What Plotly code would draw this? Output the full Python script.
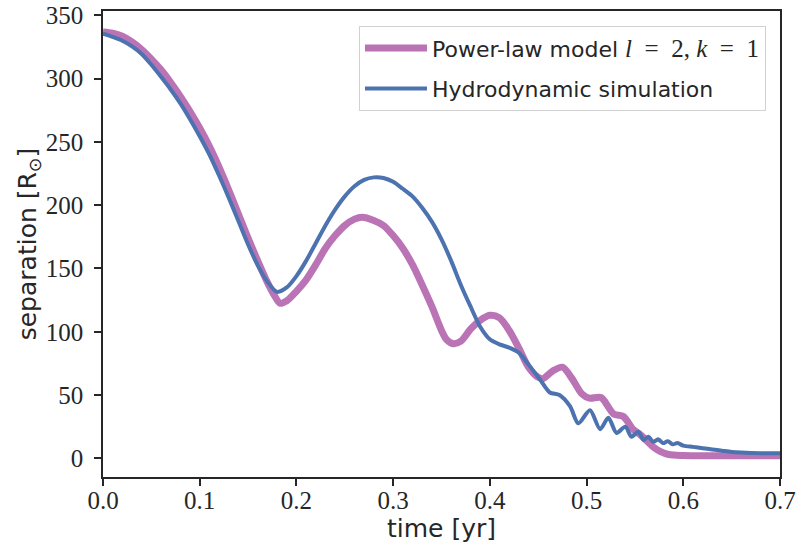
import plotly.graph_objects as go

# Power-law model l=2, k=1
t_model = [0.000, 0.010, 0.020, 0.030, 0.040, 0.050, 0.060, 0.070, 0.080, 0.090,
           0.100, 0.110, 0.120, 0.130, 0.140, 0.150, 0.160, 0.170, 0.177, 0.183,
           0.190, 0.200, 0.210, 0.220, 0.230, 0.240, 0.250, 0.260, 0.268, 0.280,
           0.290, 0.300, 0.310, 0.320, 0.330, 0.340, 0.350, 0.355, 0.362, 0.370,
           0.380, 0.390, 0.400, 0.410, 0.420, 0.430, 0.440, 0.450, 0.455, 0.465,
           0.475, 0.485, 0.495, 0.503, 0.515, 0.528, 0.538, 0.548, 0.555, 0.569,
           0.576, 0.585, 0.600, 0.650, 0.700]
sep_model = [337, 336, 333.5, 329, 323, 315.5, 307, 297, 286, 274,
             261, 246.5, 230, 212, 193, 174, 156, 139, 129, 122.5,
             124.5, 132, 141, 153, 166, 176, 184, 189, 190.5, 188,
             184, 176, 166, 153, 137, 120, 101, 94, 90.5, 92.5,
             102, 109, 113, 111, 101, 87, 72, 64, 63, 69,
             72, 63, 51, 47.5, 48, 35, 33, 23, 19, 9,
             5.5, 3, 2.2, 2, 2]

# Hydrodynamic simulation
t_hydro = [0.000, 0.010, 0.020, 0.030, 0.040, 0.050, 0.060, 0.070, 0.080, 0.090,
           0.100, 0.110, 0.120, 0.130, 0.140, 0.150, 0.160, 0.170, 0.180, 0.190,
           0.200, 0.210, 0.220, 0.230, 0.240, 0.250, 0.260, 0.270, 0.280, 0.290,
           0.300, 0.310, 0.320, 0.330, 0.340, 0.350, 0.360, 0.370, 0.380, 0.390,
           0.400, 0.410, 0.420, 0.430, 0.440, 0.452, 0.462, 0.472, 0.483, 0.4915,
           0.5035, 0.514, 0.5225, 0.531, 0.540, 0.5465, 0.5535, 0.559, 0.564, 0.569,
           0.574, 0.579, 0.584, 0.589, 0.594, 0.600, 0.610, 0.620, 0.630, 0.640,
           0.650, 0.660, 0.680, 0.700]
sep_hydro = [335.5, 333, 330, 325.5, 319.5, 311, 301.5, 291.5, 280.5, 268,
             254.5, 240, 223.5, 206, 187.5, 169, 152.5, 139.5, 131.5, 135,
             144, 156, 170, 184, 196.5, 207, 215, 220, 222, 221.5,
             218.5, 213, 207, 198, 187, 173, 156, 137, 120, 104,
             94, 90, 87.5, 83.5, 74, 62, 52, 50, 41, 27.6,
             38, 23, 32, 20, 25, 17, 21, 14.5, 17, 13,
             15, 12, 13.5, 11, 12, 10, 9, 8, 7, 6,
             5, 4.5, 4, 4]

x_ticks = [0.0, 0.1, 0.2, 0.3, 0.4, 0.5, 0.6, 0.7]
x_tick_text = ["0.0", "0.1", "0.2", "0.3", "0.4", "0.5", "0.6", "0.7"]
y_ticks = [0, 50, 100, 150, 200, 250, 300, 350]
y_tick_text = ["0", "50", "100", "150", "200", "250", "300", "350"]

PINK = "rgb(186,116,182)"
BLUE = "rgb(76,114,176)"
DARK = "#262626"
MATH = "Liberation Serif"
SANS = "DejaVu Sans"

model_name = ("Power-law model <span style='font-family:" + MATH + "; font-size:25px'>"
              "<i>l</i>&nbsp;&nbsp;=&nbsp;&nbsp;2, <i>k</i>&nbsp;&nbsp;=&nbsp;&nbsp;1</span>")

fig = go.Figure()
fig.add_trace(go.Scatter(
    x=t_model, y=sep_model, mode="lines",
    line=dict(color=PINK, width=7, shape="spline", smoothing=0.8),
    name=model_name, legendgroup="a"))
fig.add_trace(go.Scatter(
    x=t_hydro, y=sep_hydro, mode="lines",
    line=dict(color=BLUE, width=4, shape="spline", smoothing=0.8),
    name="Hydrodynamic simulation", legendgroup="b"))

axis_common = dict(
    showline=True, linecolor=DARK, linewidth=1.5, mirror=True,
    ticks="outside", ticklen=7, tickwidth=1.5, tickcolor=DARK,
    showgrid=False, zeroline=False, automargin=False,
    tickfont=dict(family=MATH, size=25, color=DARK),
)

fig.update_layout(
    width=801, height=554,
    margin=dict(l=103, r=21, t=11, b=77),
    paper_bgcolor="white", plot_bgcolor="white",
    font=dict(family=SANS, size=22, color=DARK),
    xaxis=dict(range=[0, 0.7], tickvals=x_ticks, ticktext=x_tick_text,
               ticklabelstandoff=-7,
               title=dict(text="time [yr]", standoff=2,
                          font=dict(family=SANS, size=25, color=DARK)),
               **axis_common),
    yaxis=dict(range=[-14.8, 353.5], tickvals=y_ticks, ticktext=y_tick_text,
               ticklabelstandoff=6,
               title=dict(text="separation [R<sub>⊙</sub>]", standoff=2,
                          font=dict(family=SANS, size=25, color=DARK)),
               **axis_common),
    legend=dict(x=0.979, y=0.968, xanchor="right", yanchor="top",
                bgcolor="rgba(255,255,255,0.85)", bordercolor="rgb(210,210,210)",
                borderwidth=1.2, font=dict(family=SANS, size=22, color=DARK),
                tracegroupgap=9, itemwidth=62, traceorder="grouped"),
    showlegend=True,
)

fig.write_html("out.html")
